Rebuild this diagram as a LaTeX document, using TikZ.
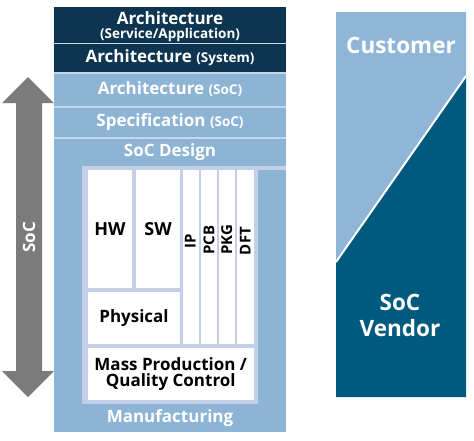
\documentclass[tikz,border=0pt]{standalone}
\usepackage{fontspec}
\setmainfont{Open Sans}
\usetikzlibrary{positioning}
\definecolor{navy}{HTML}{0E3550}
\definecolor{midblue}{HTML}{8DB4D5}
\definecolor{lavender}{HTML}{C3CFE8}
\definecolor{sepblue}{HTML}{C6D7EA}
\definecolor{custblue}{HTML}{8FB5D7}
\definecolor{vendblue}{HTML}{005A7D}
\definecolor{arrowgray}{HTML}{7B7B7B}
\newcommand{\RowSize}{\fontsize{17}{18}\selectfont}
\newcommand{\Paren}[1]{{\fontsize{13.5}{14}\selectfont #1}}
\tikzset{
    blk/.style={inner sep=0pt, outer sep=0pt, font=\bfseries\RowSize},
    darkrow/.style={blk, fill=navy, text=white, minimum width=232pt},
    midrow/.style={blk, fill=midblue, text=white, minimum width=232pt},
    rowtext/.style={blk, text=white},
    cell/.style={blk, fill=white, anchor=north west, align=center},
    vlabel/.style={blk, font=\bfseries\fontsize{15}{16}\selectfont, rotate=90},
    side/.style={inner sep=0pt, font=\bfseries\fontsize{22.5}{26}\selectfont, text=white, align=center},
}
\begin{document}
\begin{tikzpicture}[x=1pt, y=-1pt]
    \useasboundingbox (0,0) rectangle (474,440);

    \fill[sepblue] (54,7) rectangle (286,432);
    \node[darkrow, minimum height=35.5pt, align=center] (archsvc) at (170,24.75)
        {\rule{0pt}{17pt}Architecture\\[-4.5pt]\Paren{(Service/Application)}};
    \node[darkrow, minimum height=27.5pt] (archsys) at (170,57.75)
        {Architecture \Paren{(System)}};
    \node[midrow, minimum height=32pt] (archsoc) at (170,89.5)
        {Architecture \Paren{(SoC)}};
    \node[midrow, minimum height=29pt] (spec) at (170,122)
        {Specification \Paren{(SoC)}};
    \node[midrow, minimum height=293.5pt, anchor=north] (design) at (170,138.5) {};
    \node[rowtext] (designlbl) at (170,152) {SoC Design};

    \fill[lavender] (82,166) rectangle (286,169.5);
    \fill[lavender] (82,166) rectangle (258,404);

    \node[cell, minimum width=44pt, minimum height=118pt, font=\bfseries\fontsize{18}{19}\selectfont] (hw) at (88,170) {HW};
    \node[cell, minimum width=44pt, minimum height=118pt, font=\bfseries\fontsize{18}{19}\selectfont] (sw) at (136,170) {SW};
    \node[cell, minimum width=15.5pt, minimum height=174pt] (ip) at (183,170) {};
    \node[cell, minimum width=16pt, minimum height=174pt] (pcb) at (201,170) {};
    \node[cell, minimum width=15.5pt, minimum height=174pt] (pkg) at (219,170) {};
    \node[cell, minimum width=16.5pt, minimum height=174pt] (dft) at (237,170) {};
    \node[vlabel] (iplbl) at (190.25,241) {IP};
    \node[vlabel] (pcblbl) at (209,240) {PCB};
    \node[vlabel] (pkglbl) at (226.75,240) {PKG};
    \node[vlabel] (dftlbl) at (245.25,241) {DFT};
    \node[cell, minimum width=92pt, minimum height=52pt] (phys) at (88,292) {Physical};
    \node[cell, minimum width=165.5pt, minimum height=52pt] (mass) at (88,348)
        {Mass Production /\\[-2pt]Quality Control};
    \node[rowtext] (manuf) at (170,418) {Manufacturing};

    \fill[arrowgray] (28,77) -- (54,103) -- (42,103) -- (42,371) -- (54,371) -- (28,397)
        -- (2,371) -- (16,371) -- (16,103) -- (2,103) -- cycle;
    \node[rowtext, rotate=90] (soc) at (29,237) {SoC};

    \fill[custblue] (336,12) -- (466,12) -- (466,76) -- (336,262) -- cycle;
    \fill[vendblue] (336,262) -- (466,76) -- (466,397) -- (336,397) -- cycle;
    \draw[white, line width=2pt] (336,262) -- (466,76);
    \node[side] (customer) at (401,45) {Customer};
    \node[side] (vendor) at (400,315) {SoC\\Vendor};
\end{tikzpicture}
\end{document}
